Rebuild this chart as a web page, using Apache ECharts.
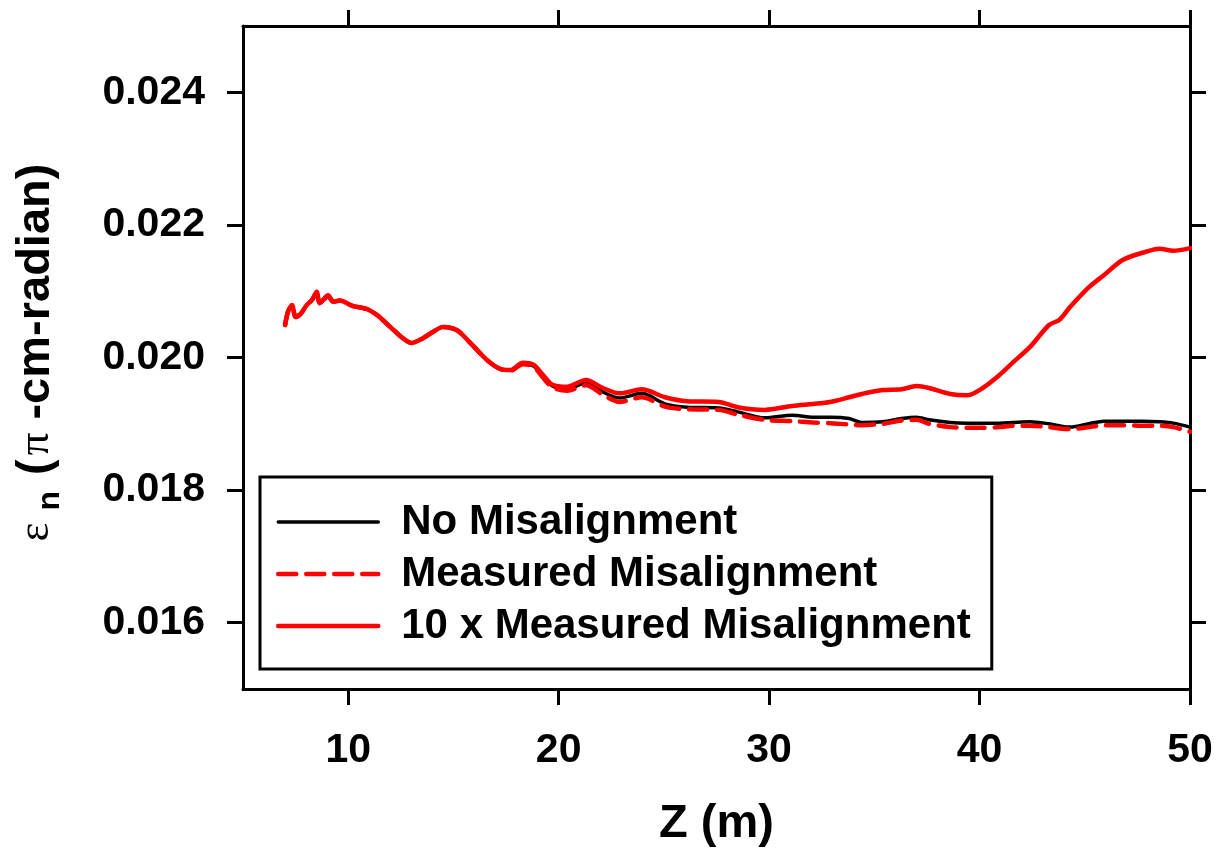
<!DOCTYPE html>
<html>
<head>
<meta charset="utf-8">
<title>Normalized emittance along Z</title>
<script src="https://cdn.jsdelivr.net/npm/echarts@6/dist/echarts.min.js"></script>
<style>
  html, body { margin: 0; padding: 0; background: #fff; }
  #chart { width: 1222px; height: 853px; }
</style>
</head>
<body>
<div id="chart"></div>
<script>
// Axial position along the beamline (m)
const zPos = [
  7.0, 7.15, 7.33, 7.5, 7.75, 8.0, 8.28, 8.5, 8.65, 9.04, 9.3, 9.6, 10.2, 10.9, 11.37,
  12.0, 12.6, 13.0, 13.55, 14.0, 14.5, 15.17, 15.8, 16.6, 17.2, 17.7, 18.3, 18.8, 19.25,
  19.7, 20.4, 21.3, 22.1, 22.9, 23.95, 25.05, 26.1, 27.6, 28.5, 29.8, 31.1, 32.1, 32.9,
  33.8, 34.4, 35.4, 36.3, 37.0, 37.6, 38.6, 39.4, 40.15, 40.96, 41.6, 42.4, 43.3, 43.8,
  44.3, 45.2, 45.9, 46.8, 47.75, 48.56, 49.2, 50.0
];

// Normalized emittance (pi-cm-radian), no misalignment
const noMisalignment = [
  0.02049, 0.02070, 0.02079, 0.02061, 0.02066, 0.02078, 0.02087, 0.02097, 0.02082, 0.02092, 0.02084, 0.02086, 0.02078, 0.02073, 0.02064,
  0.02046, 0.02029, 0.02022, 0.02029, 0.02038, 0.02046, 0.02041, 0.02022, 0.01996, 0.01983, 0.01981, 0.01991, 0.01987, 0.01972,
  0.01957, 0.01952, 0.01962, 0.01948, 0.01939, 0.01946, 0.01930, 0.01925, 0.01924, 0.01918, 0.01909, 0.01913, 0.01910, 0.01910,
  0.01908, 0.01902, 0.01903, 0.01908, 0.01910, 0.01906, 0.01902, 0.01901, 0.01901, 0.01901, 0.01902, 0.01903, 0.01900, 0.01897,
  0.01895, 0.01900, 0.01904, 0.01904, 0.01904, 0.01903, 0.01901, 0.01895
];

// Measured misalignment
const measuredMisalignment = [
  0.02049, 0.02070, 0.02079, 0.02061, 0.02066, 0.02078, 0.02087, 0.02097, 0.02082, 0.02092, 0.02084, 0.02086, 0.02078, 0.02073, 0.02064,
  0.02046, 0.02029, 0.02022, 0.02029, 0.02038, 0.02046, 0.02041, 0.02022, 0.01996, 0.01983, 0.01980, 0.01990, 0.01986, 0.01970,
  0.01955, 0.01950, 0.01958, 0.01944, 0.01933, 0.01940, 0.01926, 0.01922, 0.01921, 0.01914, 0.01906, 0.01904, 0.01902, 0.01901,
  0.01899, 0.01898, 0.01900, 0.01905, 0.01906, 0.01900, 0.01895, 0.01894, 0.01894, 0.01895, 0.01897, 0.01897, 0.01895, 0.01893,
  0.01892, 0.01895, 0.01898, 0.01898, 0.01897, 0.01897, 0.01895, 0.01888
];

// Ten times the measured misalignment
const tenxMisalignment = [
  0.02049, 0.02070, 0.02079, 0.02061, 0.02066, 0.02078, 0.02087, 0.02099, 0.02082, 0.02094, 0.02084, 0.02086, 0.02078, 0.02073, 0.02064,
  0.02046, 0.02029, 0.02022, 0.02029, 0.02038, 0.02046, 0.02041, 0.02022, 0.01996, 0.01983, 0.01981, 0.01992, 0.01989, 0.01974,
  0.01959, 0.01956, 0.01966, 0.01954, 0.01946, 0.01952, 0.01940, 0.01934, 0.01933, 0.01925, 0.01921, 0.01927, 0.01930, 0.01933,
  0.01940, 0.01945, 0.01951, 0.01952, 0.01957, 0.01954, 0.01945, 0.01943, 0.01954, 0.01974, 0.01993, 0.02016, 0.02049, 0.02057,
  0.02076, 0.02106, 0.02124, 0.02147, 0.02158, 0.02164, 0.02161, 0.02165
];

const seriesNames = ['No Misalignment', 'Measured Misalignment', '10 x Measured Misalignment'];
const xTicks = [10, 20, 30, 40, 50];
const yTicks = [0.016, 0.018, 0.020, 0.022, 0.024];

const pairs = (ys) => zPos.map((z, i) => [z, ys[i]]);

const FONT = '"Liberation Sans", Arial, sans-serif';
const SERIF = '"Liberation Serif", "DejaVu Serif", serif';

const axisLineStyle = { lineStyle: { color: '#000', width: 3 } };
const tickStyle = { show: true, inside: false, length: 16, lineStyle: { color: '#000', width: 3 } };

const chart = echarts.init(document.getElementById('chart'), null, { renderer: 'canvas' });

chart.setOption({
  animation: false,
  backgroundColor: '#fff',
  grid: { left: 243, right: 32, top: 26, bottom: 164, containLabel: false },
  xAxis: [
    {
      type: 'value', position: 'bottom', min: 5, max: 50,
      splitLine: { show: false },
      axisLine: axisLineStyle,
      axisTick: Object.assign({ customValues: xTicks }, tickStyle),
      axisLabel: {
        customValues: xTicks, margin: 41,
        color: '#000', fontFamily: FONT, fontWeight: 'bold', fontSize: 41
      },
      name: 'Z (m)', nameLocation: 'middle', nameGap: 112,
      nameTextStyle: { color: '#000', fontFamily: FONT, fontWeight: 'bold', fontSize: 47 }
    },
    {
      type: 'value', position: 'top', min: 5, max: 50,
      splitLine: { show: false },
      axisLine: axisLineStyle,
      axisTick: Object.assign({ customValues: xTicks }, tickStyle),
      axisLabel: { show: false }
    }
  ],
  yAxis: [
    {
      type: 'value', position: 'left', min: 0.015, max: 0.025,
      splitLine: { show: false },
      axisLine: axisLineStyle,
      axisTick: Object.assign({ customValues: yTicks }, tickStyle),
      axisLabel: {
        customValues: yTicks, margin: 38,
        formatter: (v) => v.toFixed(3),
        color: '#000', fontFamily: FONT, fontWeight: 'bold', fontSize: 41
      },
      name: '{e|ε}{s|n}{p|(}{g|π}{p| -cm-radian)}',
      nameLocation: 'middle', nameRotate: 90, nameGap: 177,
      nameTextStyle: {
        color: '#000',
        rich: {
          e: { fontFamily: SERIF, fontSize: 45, color: '#000', lineHeight: 60, padding: [0, 6, 0, 10] },
          s: { fontFamily: FONT, fontWeight: 'bold', fontSize: 32, color: '#000', lineHeight: 20,
               verticalAlign: 'bottom', padding: [0, 16, 0, 6] },
          p: { fontFamily: FONT, fontWeight: 'bold', fontSize: 47, color: '#000', lineHeight: 60 },
          g: { fontFamily: SERIF, fontSize: 45, color: '#000', lineHeight: 60, padding: [0, 0, 0, 4] }
        }
      }
    },
    {
      type: 'value', position: 'right', min: 0.015, max: 0.025,
      splitLine: { show: false },
      axisLine: axisLineStyle,
      axisTick: Object.assign({ customValues: yTicks }, tickStyle),
      axisLabel: { show: false }
    }
  ],
  legend: {
    orient: 'vertical', left: 260, top: 477,
    padding: [23, 21, 21, 16],
    itemWidth: 100, itemHeight: 14, itemGap: 8,
    borderColor: '#000', borderWidth: 3, backgroundColor: '#fff',
    itemStyle: { opacity: 0 },
    lineStyle: { width: 'inherit' },
    textStyle: {
      color: '#000', fontFamily: FONT, fontWeight: 'bold', fontSize: 42,
      lineHeight: 44, padding: [0, 0, 0, 18]
    },
    data: seriesNames
  },
  series: [
    {
      name: seriesNames[0], type: 'line', data: pairs(noMisalignment),
      symbol: 'none', showSymbol: false, smooth: 0.3,
      lineStyle: { color: '#000', width: 3.5, cap: 'round' }, itemStyle: { color: '#000' }
    },
    {
      name: seriesNames[1], type: 'line', data: pairs(measuredMisalignment),
      symbol: 'none', showSymbol: false, smooth: 0.3,
      lineStyle: { color: '#ff0000', width: 4.5, type: [18, 10], cap: 'round' }, itemStyle: { color: '#ff0000' }
    },
    {
      name: seriesNames[2], type: 'line', data: pairs(tenxMisalignment),
      symbol: 'none', showSymbol: false, smooth: 0.3,
      lineStyle: { color: '#ff0000', width: 4.5, cap: 'round' }, itemStyle: { color: '#ff0000' }
    }
  ]
});
</script>
</body>
</html>
